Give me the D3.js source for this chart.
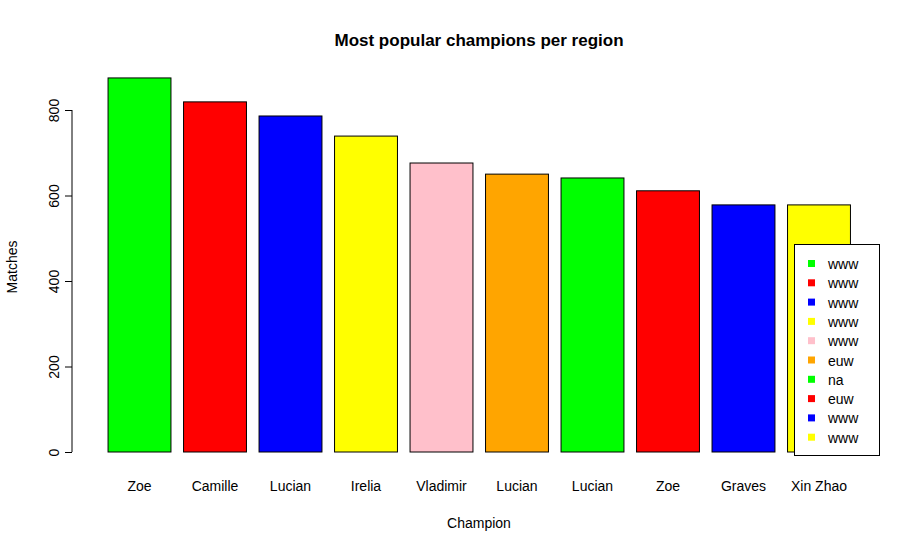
<!DOCTYPE html>
<html><head><meta charset="utf-8">
<script src="https://cdn.jsdelivr.net/npm/d3@7"></script>
<style>body{margin:0;background:#fff}text{font-family:"Liberation Sans",Arial,sans-serif}</style>
</head><body>
<script>
const champions = ['Zoe','Camille','Lucian','Irelia','Vladimir','Lucian','Lucian','Zoe','Graves','Xin Zhao']
const matches = [875, 819, 786, 739, 676, 650, 641, 611, 578, 578]
const colors = ['#00ff00','#ff0000','#0000ff','#ffff00','#ffc0cb','#ffa500','#00ff00','#ff0000','#0000ff','#ffff00']
const regions = ['www','www','www','www','www','euw','na','euw','www','www']
const yTicks = [0, 200, 400, 600, 800]

const svg = d3.select('body').append('svg').attr('width', 920).attr('height', 554)
const x = d3.scaleBand().domain(d3.range(champions.length)).range([100.5, 858]).paddingInner(0.1667).paddingOuter(0.1)
const y = d3.scaleLinear().domain([0, 800]).range([452, 110])

svg.selectAll('rect.bar').data(matches).join('rect')
  .attr('x', (d, i) => x(i)).attr('width', x.bandwidth())
  .attr('y', d => y(d)).attr('height', d => y(0) - y(d))
  .attr('fill', (d, i) => colors[i]).attr('stroke', '#000')

svg.selectAll('text.cat').data(champions).join('text')
  .attr('x', (d, i) => x(i) + x.bandwidth() / 2).attr('y', 491)
  .attr('text-anchor', 'middle').attr('font-size', 14).text(d => d)

const ax = svg.append('g').attr('transform', 'translate(72,0)')
  .call(d3.axisLeft(y).tickValues(yTicks).tickSize(7).tickSizeOuter(0))
ax.select('.domain').attr('d', 'M0,' + y(0) + 'V' + y(800))
ax.selectAll('text').attr('font-size', 14).attr('transform', d => `rotate(-90,-10,${y(d)})`)
  .attr('x', -10).attr('dy', 0).attr('dx', 0).attr('y', y(0) - y(0) - 6).style('text-anchor', 'middle')
ax.selectAll('.tick text').attr('x', null).attr('y', null).attr('dy', null)
  .attr('transform', 'translate(-13,0) rotate(-90)').attr('text-anchor', 'middle')

svg.append('text').attr('x', 479).attr('y', 46).attr('text-anchor', 'middle')
  .attr('font-size', 17).attr('font-weight', 'bold').text('Most popular champions per region')
svg.append('text').attr('x', 479).attr('y', 528).attr('text-anchor', 'middle').attr('font-size', 14).text('Champion')
svg.append('text').attr('transform', 'translate(17,267) rotate(-90)').attr('text-anchor', 'middle').attr('font-size', 14).text('Matches')

const lg = svg.append('g')
lg.append('rect').attr('x', 794.5).attr('y', 244.5).attr('width', 85).attr('height', 211).attr('fill', '#fff').attr('stroke', '#000')
const row = lg.selectAll('g.row').data(regions).join('g').attr('transform', (d, i) => `translate(0,${264 + i * 19.3})`)
row.append('rect').attr('x', 808).attr('y', -4).attr('width', 7).attr('height', 7).attr('fill', (d, i) => colors[i])
row.append('text').attr('x', 828).attr('y', 5).attr('font-size', 14).text(d => d)
</script>
</body></html>
